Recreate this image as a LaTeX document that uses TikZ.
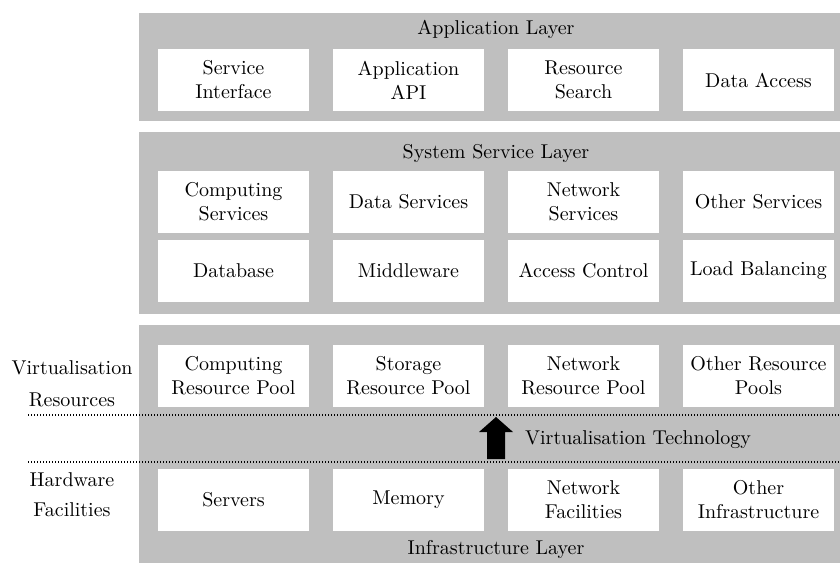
\documentclass[tikz,border=0pt]{standalone}
\begin{document}
\begin{tikzpicture}[x=0.5pt,y=-0.5pt]
  \tikzstyle{layer}=[fill=black!25]
  \tikzstyle{block}=[fill=white,minimum width=75.5pt,minimum height=31pt,inner sep=0pt,align=center,font=\fontsize{10}{12}\selectfont]
  \tikzstyle{label}=[inner sep=0pt,align=center,font=\fontsize{10}{12}\selectfont]
  \tikzstyle{divider}=[dash pattern=on 0.6pt off 0.9pt,line width=0.65pt]
  \useasboundingbox (0,0) rectangle (840,563);

  % layers
  \fill[layer] (139,13) rectangle (840,121);
  \fill[layer] (139,132) rectangle (840,314);
  \fill[layer] (139,325) rectangle (840,563);

  \node[label] (app) at (496,29) {Application Layer};
  \node[label] (sys) at (496,153) {System Service Layer};
  \node[label] (infra) at (496,549) {Infrastructure Layer};

  \foreach \x/\txt in {0/{Service\\Interface}, 1/{Application\\API}, 2/{Resource\\Search}, 3/{Data Access}}
    \node[block] (A-\x) at (233.5+175*\x, 80) {\txt};

  \foreach \x/\txt in {0/{Computing\\Services}, 1/{Data Services}, 2/{Network\\Services}, 3/{Other Services}}
    \node[block] (S-\x) at (233.5+175*\x, 202) {\txt};
  \foreach \x/\txt in {0/Database, 1/Middleware, 2/{Access Control}, 3/{Load Balancing}}
    \node[block] (T-\x) at (233.5+175*\x, 271) {\txt};

  \foreach \x/\txt in {0/{Computing\\Resource Pool}, 1/{Storage\\Resource Pool}, 2/{Network\\Resource Pool}, 3/{Other Resource\\Pools}}
    \node[block] (V-\x) at (233.5+175*\x, 376) {\txt};
  \foreach \x/\txt in {0/Servers, 1/Memory, 2/{Network\\Facilities}, 3/{Other\\Infrastructure}}
    \node[block] (H-\x) at (233.5+175*\x, 500) {\txt};

  % virtualisation band
  \coordinate (d1-l) at (28,415);
  \coordinate (d1-r) at (840,415);
  \coordinate (d2-l) at (28,462);
  \coordinate (d2-r) at (840,462);
  \draw[divider] (d1-l) -- (d1-r);
  \draw[divider] (d2-l) -- (d2-r);
  \fill (487,459) -- (487,432) -- (479,432) -- (496,417) -- (513,432) -- (505,432) -- (505,459) -- cycle;
  \node[label] (vtech) at (638,440) {Virtualisation Technology};

  \node[label] (vres) at (72,384) {Virtualisation\\[4pt]Resources};
  \node[label] (hw) at (72,495) {Hardware\\[3pt]Facilities};
\end{tikzpicture}
\end{document}
